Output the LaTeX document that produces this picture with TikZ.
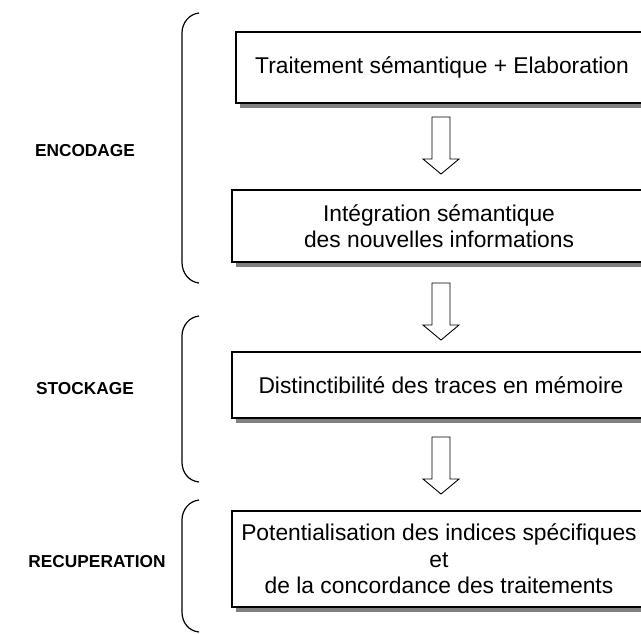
\documentclass[tikz,border=0pt]{standalone}
\usepackage{fontspec}
\setmainfont{Liberation Sans}
\begin{document}
\begin{tikzpicture}[x=1pt,y=-1pt,
  stage/.style={draw=black,line width=1.1pt,fill=white,inner sep=0pt},
  shadow/.style={fill=black!50,draw=none},
  brace/.style={draw=black,line width=1.2pt},
  blockarrow/.style={draw=black,line width=0.9pt,fill=white,line join=miter},
  phase/.style={font=\bfseries\fontsize{17.3}{20}\selectfont,anchor=center},
  boxtext/.style={font=\fontsize{22.8}{26.5}\selectfont,align=center,anchor=center}]
\useasboundingbox (0,0) rectangle (641,633);
\clip (0,0) rectangle (641,633);

% drop shadows
\fill[shadow] (240,37) rectangle (665,108);
\fill[shadow] (236,195) rectangle (665,267);
\fill[shadow] (236,357) rectangle (665,423);
\fill[shadow] (236,516) rectangle (665,612);

% stage boxes
\draw[stage] (236,32) rectangle (660,103);
\draw[stage] (232,190) rectangle (660,262);
\draw[stage] (232,352) rectangle (660,418);
\draw[stage] (232,511) rectangle (660,607);

\node[boxtext] (t1) at (442,67) {Traitement sémantique + Elaboration};
\node[boxtext] (t2) at (439,226) {Intégration sémantique\\des nouvelles informations};
\node[boxtext] (t3) at (441,385) {Distinctibilité des traces en mémoire};
\node[boxtext] (t4) at (439,559) {Potentialisation des indices spécifiques\\et\\de la concordance des traitements};

% hollow block arrows between stages
\foreach \top in {117,283,437}{
  \draw[blockarrow] (432,\top) -- (450,\top) -- (450,\top+42) -- (459,\top+42)
     -- (441,\top+57) -- (423,\top+42) -- (432,\top+42) -- cycle;
}

% braces grouping the stages
\draw[brace] (199,13) .. controls (189,14) and (182,23) .. (182,33) -- (182,262)
   .. controls (182,273) and (189,282) .. (199,283);
\draw[brace] (199,316) .. controls (189,317) and (182,326) .. (182,336) -- (182,462)
   .. controls (182,473) and (189,481) .. (199,482);
\draw[brace] (199,500) .. controls (189,501) and (182,510) .. (182,520) -- (182,612)
   .. controls (182,623) and (189,631) .. (199,632);

% phase labels
\node[phase] (enc) at (85,151) {ENCODAGE};
\node[phase] (sto) at (85,389) {STOCKAGE};
\node[phase] (rec) at (97,562) {RECUPERATION};
\end{tikzpicture}
\end{document}
